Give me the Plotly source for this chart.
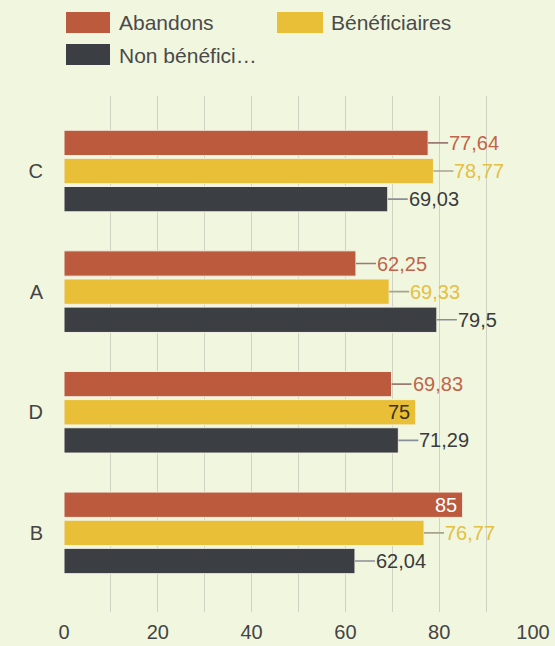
import plotly.graph_objects as go

categories = ["C", "A", "D", "B"]
series_names = ["Abandons", "Bénéficiaires", "Non bénéficiaires"]
legend_labels = ["Abandons", "Bénéficiaires", "Non bénéfici…"]
abandons = [77.64, 62.25, 69.83, 85]
beneficiaires = [78.77, 69.33, 75, 76.77]
non_beneficiaires = [69.03, 79.5, 71.29, 62.04]
label_texts = [
    ["77,64", "62,25", "69,83", "85"],
    ["78,77", "69,33", "75", "76,77"],
    ["69,03", "79,5", "71,29", "62,04"],
]
inside_flags = [
    [False, False, False, True],
    [False, False, True, False],
    [False, False, False, False],
]
x_ticks = [0, 20, 40, 60, 80, 100]

colors = ["#bb5a3d", "#e8bf36", "#3b3e42"]
text_colors = ["#c0644b", "#e3c043", "#3a3b3c"]
inside_text_colors = ["#ffffff", "#3a3320", "#ffffff"]
line_colors = ["#9a7a72", "#a8a48c", "#8a8e98"]
bg = "#f1f6df"
FONT = "Liberation Sans, Arial, sans-serif"

W, H = 555, 646
L, R, T, B = 64, 22, 96, 34
pw, ph = W - L - R, H - T - B

def px_x(x):
    return (x - L) / pw

def px_y(y):
    return (H - B - y) / ph

values = [abandons, beneficiaires, non_beneficiaires]

fig = go.Figure()
for i, name in enumerate(series_names):
    fig.add_trace(go.Bar(
        y=categories, x=values[i], name=name, orientation="h",
        marker=dict(color=colors[i], line=dict(color="#f4f2e4", width=1)),
        hoverinfo="x+name",
    ))

n = len(series_names)
group_w = 0.7
slot = group_w / n
annotations = []
for i in range(n):
    for j, cat in enumerate(categories):
        yy = j + (i - (n - 1) / 2) * slot
        if inside_flags[i][j]:
            annotations.append(dict(
                x=values[i][j], y=yy, xref="x", yref="y", text=label_texts[i][j],
                showarrow=False, xanchor="right", yanchor="middle", xshift=-4,
                font=dict(family=FONT, size=20, color=inside_text_colors[i]),
            ))
        else:
            annotations.append(dict(
                x=values[i][j], y=yy, xref="x", yref="y", text=label_texts[i][j],
                showarrow=True, arrowhead=0, arrowwidth=1.6, arrowcolor=line_colors[i],
                ax=20, ay=0, xanchor="left", yanchor="middle", borderpad=0,
                font=dict(family=FONT, size=20, color=text_colors[i]),
            ))

# custom legend
legend_items = [
    (66, 110, 12, 33, 119, 23),
    (277, 323, 12, 33, 331, 23),
    (66, 110, 44, 65, 119, 55),
]
shapes = []
for i, (x0, x1, y0, y1, tx, ty) in enumerate(legend_items):
    shapes.append(dict(type="rect", xref="paper", yref="paper",
                       x0=px_x(x0), x1=px_x(x1), y0=px_y(y1), y1=px_y(y0),
                       fillcolor=colors[i], line=dict(width=0)))
    annotations.append(dict(x=px_x(tx), y=px_y(ty), xref="paper", yref="paper",
                            text=legend_labels[i], showarrow=False,
                            xanchor="left", yanchor="middle", xshift=-2,
                            font=dict(family=FONT, size=21, color="#4a4a4a")))

fig.update_layout(
    width=W, height=H,
    margin=dict(l=L, r=R, t=T, b=B, autoexpand=False),
    paper_bgcolor=bg, plot_bgcolor=bg,
    barmode="group", bargap=0.3, bargroupgap=0.1,
    showlegend=False,
    font=dict(family=FONT, size=20, color="#444444"),
    annotations=annotations, shapes=shapes,
    xaxis=dict(range=[0, 100], showgrid=True,
               gridcolor="#d0d3c3", gridwidth=1, zeroline=False, showline=False,
               ticks="", automargin=False, ticklabelstandoff=6,
               tickmode="array", tickvals=list(range(0, 101, 10)),
               ticktext=[str(v) if v in x_ticks else "" for v in range(0, 101, 10)],
               tickfont=dict(family=FONT, size=20, color="#444444")),
    yaxis=dict(categoryorder="array", categoryarray=categories,
               range=[3.656, -0.622], showgrid=False, zeroline=False,
               ticks="", automargin=False, ticklabelstandoff=20,
               tickfont=dict(family=FONT, size=20, color="#444444")),
)

fig.write_html(
    "out.html",
    config={"displayModeBar": False},
    post_script=(
        "document.body.style.margin='0';"
        "document.body.style.padding='0';"
        "document.body.style.overflow='hidden';"
        "document.body.style.background='" + bg + "';"
    ),
)
